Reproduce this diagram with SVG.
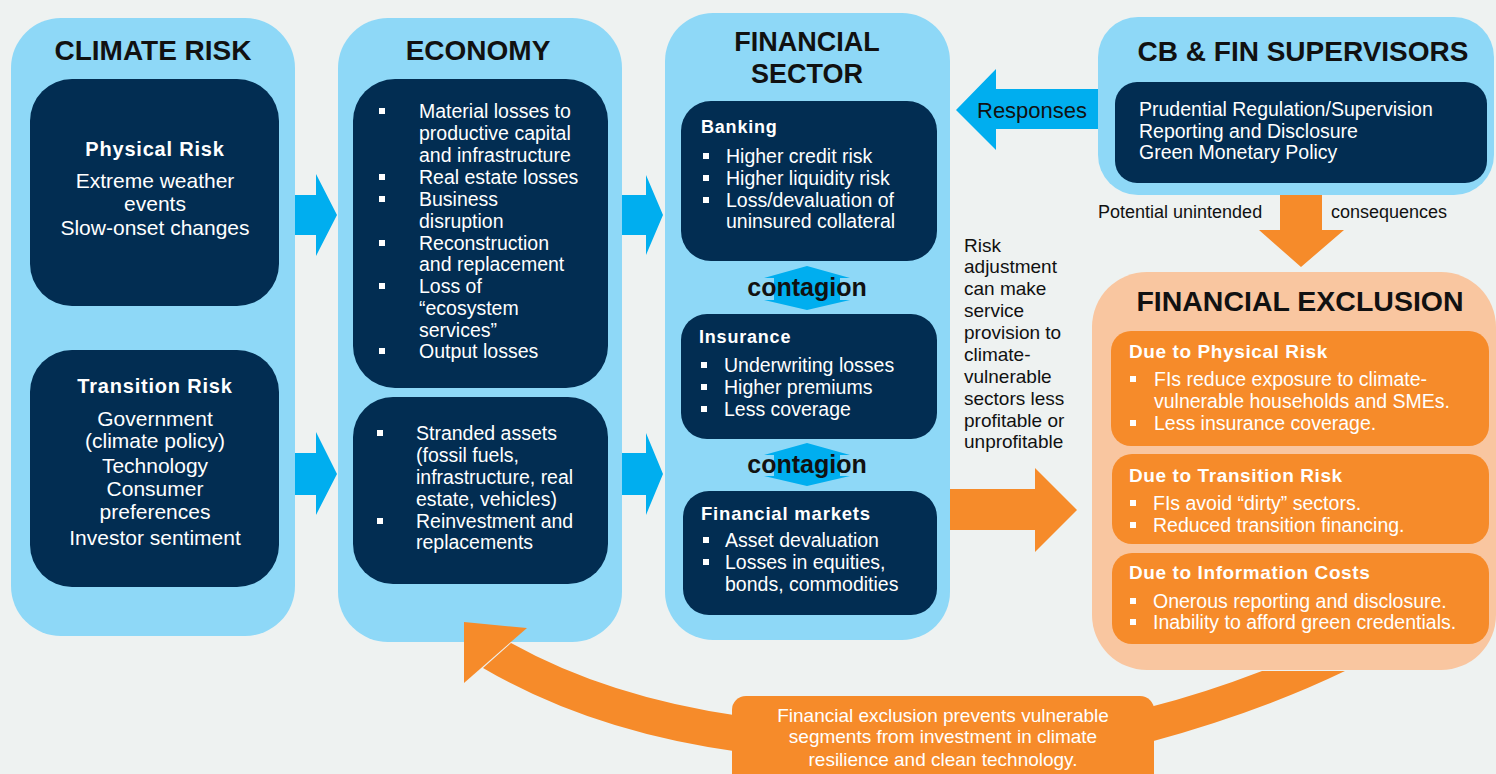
<svg xmlns="http://www.w3.org/2000/svg" width="1496" height="774" viewBox="0 0 1496 774">
<style>
text{font-family:"Liberation Sans",Arial,sans-serif}
.panel{fill:#8ed8f7}
.navy{fill:#022d52}
.ob{fill:#f68b2a}
.lo{fill:#f9c6a0}
.blue{fill:#00aeef}
.orange{fill:#f68b2a}
.title{font-size:28px;font-weight:bold;fill:#111;text-anchor:middle}
.hd{font-size:20px;font-weight:bold;fill:#fff;letter-spacing:0.8px}
.hs{font-size:18px;font-weight:bold;fill:#fff;letter-spacing:0.8px}
.hf{font-size:19px;font-weight:bold;fill:#fff;letter-spacing:0.6px}
.lc{font-size:21px;fill:#fff;text-anchor:middle}
.t{font-size:19.5px;fill:#fff}
.k{font-size:19px;fill:#111}
.b{fill:#fff}
.cg{font-size:25px;font-weight:bold;fill:#111;text-anchor:middle}
.lbl{font-size:19px;fill:#fff;text-anchor:middle}
</style>
<rect x="0" y="0" width="1496" height="774" fill="#eef2f1"/>

<g id="climate-risk">
<rect class="panel" x="11" y="18" width="284" height="618" rx="50"/>
<text class="title" x="153" y="60">CLIMATE RISK</text>
</g>
<g id="physical-risk">
<rect class="navy" x="30" y="79" width="249" height="227" rx="42"/>
<text class="hd" x="155" y="156" text-anchor="middle">Physical Risk</text>
<text class="lc" x="155" y="188">Extreme weather</text>
<text class="lc" x="155" y="211">events</text>
<text class="lc" x="155" y="235">Slow-onset changes</text>
</g>
<g id="transition-risk">
<rect class="navy" x="30" y="350" width="249" height="237" rx="42"/>
<text class="hd" x="155" y="393" text-anchor="middle">Transition Risk</text>
<text class="lc" x="155" y="426">Government</text>
<text class="lc" x="155" y="448">(climate policy)</text>
<text class="lc" x="155" y="473">Technology</text>
<text class="lc" x="155" y="496">Consumer</text>
<text class="lc" x="155" y="519">preferences</text>
<text class="lc" x="155" y="545">Investor sentiment</text>
</g>

<g id="economy">
<rect class="panel" x="338" y="18" width="284" height="624" rx="50"/>
<text class="title" x="478" y="60">ECONOMY</text>
</g>
<g id="economy-physical">
<rect class="navy" x="353" y="79" width="255" height="309" rx="42"/>
<rect class="b" x="379" y="108" width="6" height="6"/>
<rect class="b" x="379" y="174" width="6" height="6"/>
<rect class="b" x="379" y="196" width="6" height="6"/>
<rect class="b" x="379" y="240" width="6" height="6"/>
<rect class="b" x="379" y="283" width="6" height="6"/>
<rect class="b" x="379" y="348" width="6" height="6"/>
<text class="t" x="419" y="118">Material losses to</text>
<text class="t" x="419" y="140">productive capital</text>
<text class="t" x="419" y="162">and infrastructure</text>
<text class="t" x="419" y="184">Real estate losses</text>
<text class="t" x="419" y="206">Business</text>
<text class="t" x="419" y="228">disruption</text>
<text class="t" x="419" y="250">Reconstruction</text>
<text class="t" x="419" y="271">and replacement</text>
<text class="t" x="419" y="293">Loss of</text>
<text class="t" x="419" y="315">“ecosystem</text>
<text class="t" x="419" y="337">services”</text>
<text class="t" x="419" y="358">Output losses</text>
</g>
<g id="economy-transition">
<rect class="navy" x="353" y="397" width="255" height="187" rx="40"/>
<rect class="b" x="377" y="430" width="6" height="6"/>
<rect class="b" x="377" y="518" width="6" height="6"/>
<text class="t" x="416" y="440">Stranded assets</text>
<text class="t" x="416" y="462">(fossil fuels,</text>
<text class="t" x="416" y="484">infrastructure, real</text>
<text class="t" x="416" y="506">estate, vehicles)</text>
<text class="t" x="416" y="528">Reinvestment and</text>
<text class="t" x="416" y="549">replacements</text>
</g>

<g id="financial-sector">
<rect class="panel" x="665" y="13" width="285" height="627" rx="48"/>
<text class="title" x="807" y="51" style="font-size:27px">FINANCIAL</text>
<text class="title" x="807" y="83" style="font-size:27px">SECTOR</text>
</g>
<g id="banking">
<rect class="navy" x="681" y="101" width="256" height="160" rx="30"/>
<text class="hs" x="701" y="133">Banking</text>
<rect class="b" x="703" y="153" width="6" height="6"/>
<rect class="b" x="703" y="175" width="6" height="6"/>
<rect class="b" x="703" y="197" width="6" height="6"/>
<text class="t" x="726" y="163">Higher credit risk</text>
<text class="t" x="726" y="185">Higher liquidity risk</text>
<text class="t" x="726" y="207">Loss/devaluation of</text>
<text class="t" x="726" y="228">uninsured collateral</text>
</g>
<g id="insurance">
<rect class="navy" x="681" y="314" width="256" height="125" rx="26"/>
<text class="hs" x="699" y="343">Insurance</text>
<rect class="b" x="701" y="362" width="6" height="6"/>
<rect class="b" x="701" y="384" width="6" height="6"/>
<rect class="b" x="701" y="406" width="6" height="6"/>
<text class="t" x="724" y="372">Underwriting losses</text>
<text class="t" x="724" y="394">Higher premiums</text>
<text class="t" x="724" y="416">Less coverage</text>
</g>
<g id="financial-markets">
<rect class="navy" x="683" y="491" width="254" height="124" rx="26"/>
<text class="hs" x="701" y="520" style="font-size:18.5px">Financial markets</text>
<rect class="b" x="703" y="537" width="6" height="6"/>
<rect class="b" x="703" y="559" width="6" height="6"/>
<text class="t" x="725" y="547">Asset devaluation</text>
<text class="t" x="725" y="569">Losses in equities,</text>
<text class="t" x="725" y="591">bonds, commodities</text>
</g>

<g id="cb-supervisors">
<rect class="panel" x="1098" y="17" width="396" height="178" rx="40"/>
<text class="title" x="1303" y="61">CB &amp; FIN SUPERVISORS</text>
<rect class="navy" x="1115" y="82" width="372" height="101" rx="22"/>
<text class="t" x="1139" y="116">Prudential Regulation/Supervision</text>
<text class="t" x="1139" y="138">Reporting and Disclosure</text>
<text class="t" x="1139" y="159">Green Monetary Policy</text>
</g>

<g id="financial-exclusion">
<rect class="lo" x="1092" y="272" width="404" height="398" rx="55"/>
<text class="title" x="1300" y="311" style="font-size:28.5px">FINANCIAL EXCLUSION</text>
</g>
<g id="fe-physical">
<rect class="ob" x="1111" y="331" width="378" height="115" rx="20"/>
<text class="hf" x="1129" y="358">Due to Physical Risk</text>
<rect class="b" x="1130" y="376" width="6" height="6"/>
<rect class="b" x="1130" y="420" width="6" height="6"/>
<text class="t" x="1154" y="386">FIs reduce exposure to climate-</text>
<text class="t" x="1154" y="408">vulnerable households and SMEs.</text>
<text class="t" x="1154" y="430">Less insurance coverage.</text>
</g>
<g id="fe-transition">
<rect class="ob" x="1112" y="454" width="377" height="90" rx="20"/>
<text class="hf" x="1129" y="482">Due to Transition Risk</text>
<rect class="b" x="1130" y="500" width="6" height="6"/>
<rect class="b" x="1130" y="522" width="6" height="6"/>
<text class="t" x="1153" y="510">FIs avoid “dirty” sectors.</text>
<text class="t" x="1153" y="532">Reduced transition financing.</text>
</g>
<g id="fe-information">
<rect class="ob" x="1112" y="553" width="377" height="91" rx="20"/>
<text class="hf" x="1129" y="579">Due to Information Costs</text>
<rect class="b" x="1130" y="598" width="6" height="6"/>
<rect class="b" x="1130" y="619" width="6" height="6"/>
<text class="t" x="1153" y="608">Onerous reporting and disclosure.</text>
<text class="t" x="1153" y="629">Inability to afford green credentials.</text>
</g>

<g id="connectors">
<polygon class="blue" points="295,195 316,195 316,174 337,215 316,256 316,235 295,235"/>
<polygon class="blue" points="295,453 316,453 316,432 337,474 316,515 316,495 295,495"/>
<polygon class="blue" points="622,195 646,195 646,175 663,215 646,255 646,235 622,235"/>
<polygon class="blue" points="622,453 646,453 646,433 663,474 646,515 646,495 622,495"/>
<polygon class="blue" points="807,266 850,278 840,278 840,300 850,300 807,310 764,300 774,300 774,278 764,278"/>
<text class="cg" x="807" y="296">contagion</text>
<polygon class="blue" points="807,443 850,455 840,455 840,476 850,476 807,486 764,476 774,476 774,455 764,455"/>
<text class="cg" x="807" y="473">contagion</text>
<polygon class="blue" points="956,110 996,69 996,89 1098,89 1098,129 996,129 996,150"/>
<text class="k" x="977" y="118" style="font-size:22px">Responses</text>
<polygon class="orange" points="1280,195 1322,195 1322,230 1344,230 1301,267 1259,230 1280,230"/>
<text class="k" x="1098" y="218" style="font-size:18px">Potential unintended</text>
<text class="k" x="1331" y="218" style="font-size:18px">consequences</text>
<polygon class="orange" points="950,489 1035,489 1035,468 1077,510 1035,552 1035,530 950,530"/>
<g class="k">
<text x="964" y="252">Risk</text>
<text x="964" y="273">adjustment</text>
<text x="964" y="295">can make</text>
<text x="964" y="317">service</text>
<text x="964" y="339">provision to</text>
<text x="964" y="361">climate-</text>
<text x="964" y="383">vulnerable</text>
<text x="964" y="405">sectors less</text>
<text x="964" y="427">profitable or</text>
<text x="964" y="448">unprofitable</text>
</g>
<path class="orange" d="M1150,707 Q1205,693 1262,671 L1345,671 Q1260,712 1150,742 Z"/>
<path class="orange" d="M511,643 Q608,697 740,716 L740,752 Q592,732 483,668 Z"/>
<polygon class="orange" points="464,622 527,628 464,683"/>
<rect class="orange" x="732" y="696" width="422" height="100" rx="14"/>
<text class="lbl" x="943" y="722">Financial exclusion prevents vulnerable</text>
<text class="lbl" x="943" y="743">segments from investment in climate</text>
<text class="lbl" x="943" y="766">resilience and clean technology.</text>
</g>
</svg>
